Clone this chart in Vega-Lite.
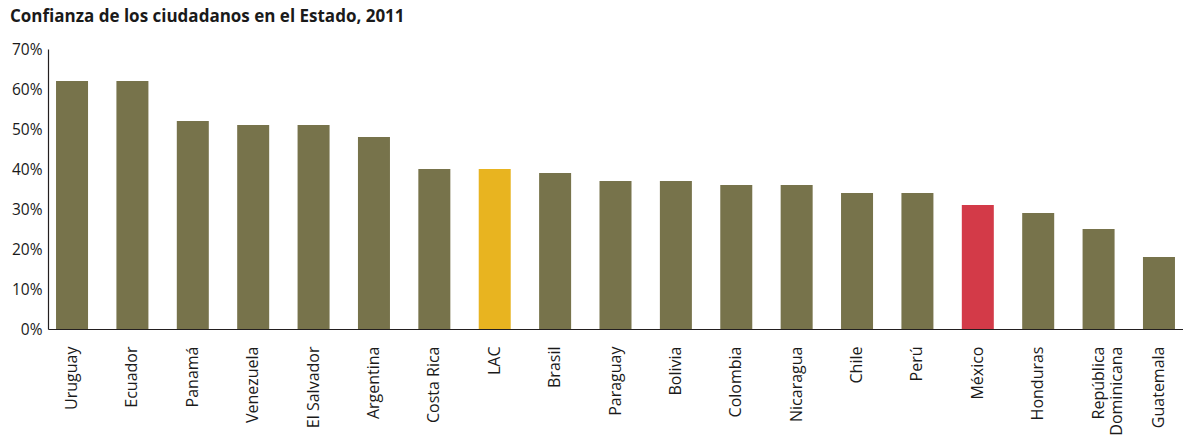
{
  "$schema": "https://vega.github.io/schema/vega-lite/v6.json",
  "autosize": {"type": "none"},
  "padding": {"left": 48, "top": 49, "right": 0, "bottom": 115},
  "width": 1135,
  "height": 280,
  "background": "white",
  "title": {
    "text": "Confianza de los ciudadanos en el Estado, 2011",
    "anchor": "start",
    "frame": "group",
    "dx": -38,
    "offset": 16,
    "font": "Open Sans",
    "fontSize": 17,
    "fontWeight": "bold",
    "color": "#1a1a1a"
  },
  "config": {
    "view": {"stroke": null},
    "font": "Open Sans"
  },
  "data": {
    "values": [
      {"pais": "Uruguay", "valor": 62, "grupo": "pais"},
      {"pais": "Ecuador", "valor": 62, "grupo": "pais"},
      {"pais": "Panamá", "valor": 52, "grupo": "pais"},
      {"pais": "Venezuela", "valor": 51, "grupo": "pais"},
      {"pais": "El Salvador", "valor": 51, "grupo": "pais"},
      {"pais": "Argentina", "valor": 48, "grupo": "pais"},
      {"pais": "Costa Rica", "valor": 40, "grupo": "pais"},
      {"pais": "LAC", "valor": 40, "grupo": "LAC"},
      {"pais": "Brasil", "valor": 39, "grupo": "pais"},
      {"pais": "Paraguay", "valor": 37, "grupo": "pais"},
      {"pais": "Bolivia", "valor": 37, "grupo": "pais"},
      {"pais": "Colombia", "valor": 36, "grupo": "pais"},
      {"pais": "Nicaragua", "valor": 36, "grupo": "pais"},
      {"pais": "Chile", "valor": 34, "grupo": "pais"},
      {"pais": "Perú", "valor": 34, "grupo": "pais"},
      {"pais": "México", "valor": 31, "grupo": "Mexico"},
      {"pais": "Honduras", "valor": 29, "grupo": "pais"},
      {"pais": "República Dominicana", "valor": 25, "grupo": "pais"},
      {"pais": "Guatemala", "valor": 18, "grupo": "pais"}
    ]
  },
  "mark": {"type": "bar"},
  "encoding": {
    "x": {
      "field": "pais",
      "type": "nominal",
      "sort": null,
      "scale": {"paddingInner": 0.47, "paddingOuter": 0.133},
      "axis": {
        "title": null,
        "labelAngle": -90,
        "labelAlign": "right",
        "labelBaseline": "middle",
        "labelPadding": 17,
        "labelFontSize": 16,
        "labelColor": "#1a1a1a",
        "labelExpr": "datum.value == 'República Dominicana' ? ['República', 'Dominicana'] : datum.value",
        "ticks": false,
        "domainColor": "#231f20",
        "domainWidth": 1.2,
        "labelLimit": 200
      }
    },
    "y": {
      "field": "valor",
      "type": "quantitative",
      "scale": {"domain": [0, 70], "nice": false},
      "axis": {
        "title": null,
        "values": [0, 10, 20, 30, 40, 50, 60, 70],
        "labelExpr": "datum.value + '%'",
        "grid": false,
        "ticks": false,
        "labelPadding": 6,
        "labelFontSize": 15.5,
        "labelColor": "#1a1a1a",
        "domainColor": "#231f20",
        "domainWidth": 1.2
      }
    },
    "color": {
      "field": "grupo",
      "type": "nominal",
      "scale": {"domain": ["pais", "LAC", "Mexico"], "range": ["#77734b", "#e8b420", "#d33a48"]},
      "legend": null
    }
  }
}
